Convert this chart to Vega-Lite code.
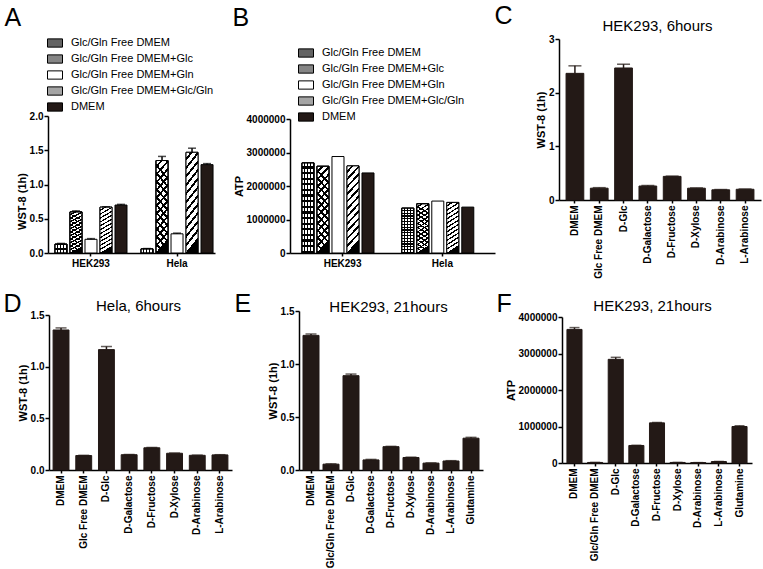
{
  "$schema": "https://vega.github.io/schema/vega-lite/v6.json",
  "background": "white",
  "padding": {"left": 3, "top": 3, "right": 2, "bottom": 2},
  "config": {
    "font": "Liberation Sans",
    "view": {"stroke": null},
    "axis": {"grid": false, "domainColor": "#000", "tickColor": "#000", "labelColor": "#000", "titleColor": "#000", "labelFont": "Liberation Sans", "titleFont": "Liberation Sans", "labelFontWeight": "bold", "labelFontSize": 10, "domainWidth": 1.5, "tickWidth": 1.5, "tickSize": 4, "labelPadding": 1, "labelOverlap": false, "labelBound": false},
    "axisLeft": {"titleFontSize": 11, "titleFontWeight": "bold", "titlePadding": 2, "labelOverlap": false},
    "axisBottom": {"titleFontSize": 25, "titleFontWeight": "normal", "titleAlign": "left", "titleBaseline": "alphabetic", "titleAngle": 0, "labelPadding": 2, "tickSize": 3},
    "axisTop": {"titleFontSize": 15, "titleFontWeight": "normal", "titleAlign": "center", "titleBaseline": "alphabetic", "titleAngle": 0, "labels": false, "ticks": false, "domain": false},
    "legend": {"padding": 0}
  },
  "columns": 3,
  "bounds": "flush",
  "align": "each",
  "spacing": 58,
  "resolve": {"scale": {"fill": "independent"}, "legend": {"fill": "independent"}},
  "concat": [
    {
      "width": 167, "height": 214,
      "data": {"values": [
        {"cell": "HEK293", "cond": "Glc/Gln Free DMEM", "v": 0.13, "hi": 0.14},
        {"cell": "HEK293", "cond": "Glc/Gln Free DMEM+Glc", "v": 0.60, "hi": 0.615},
        {"cell": "HEK293", "cond": "Glc/Gln Free DMEM+Gln", "v": 0.20, "hi": 0.21},
        {"cell": "HEK293", "cond": "Glc/Gln Free DMEM+Glc/Gln", "v": 0.67, "hi": 0.675},
        {"cell": "HEK293", "cond": "DMEM", "v": 0.70, "hi": 0.71},
        {"cell": "Hela", "cond": "Glc/Gln Free DMEM", "v": 0.06, "hi": 0.065},
        {"cell": "Hela", "cond": "Glc/Gln Free DMEM+Glc", "v": 1.35, "hi": 1.41},
        {"cell": "Hela", "cond": "Glc/Gln Free DMEM+Gln", "v": 0.28, "hi": 0.29},
        {"cell": "Hela", "cond": "Glc/Gln Free DMEM+Glc/Gln", "v": 1.47, "hi": 1.53},
        {"cell": "Hela", "cond": "DMEM", "v": 1.29, "hi": 1.305}
      ]},
      "layer": [
        {
          "mark": {"type": "bar", "stroke": "#000", "strokeWidth": 1},
          "encoding": {
            "x": {"field": "cell", "type": "nominal", "sort": null, "title": "A",
              "scale": {"paddingInner": 0.163, "paddingOuter": 0.052, "align": 0.78},
              "axis": {"labelAngle": 0, "titleX": -44, "titleY": -228}},
            "xOffset": {"field": "cond", "type": "nominal", "sort": null, "scale": {"domain": ["Glc/Gln Free DMEM", "Glc/Gln Free DMEM+Glc", "Glc/Gln Free DMEM+Gln", "Glc/Gln Free DMEM+Glc/Gln", "DMEM"], "paddingInner": 0.2, "paddingOuter": 0}},
            "y": {"field": "v", "type": "quantitative", "title": "WST-8 (1h)",
              "scale": {"domain": [0, 2], "range": [214, 77], "nice": false},
              "axis": {"values": [0, 0.5, 1, 1.5, 2], "format": ".1f", "titleY": 162}},
            "fill": {"field": "cond", "type": "nominal", "sort": null,
              "scale": {"domain": ["Glc/Gln Free DMEM", "Glc/Gln Free DMEM+Glc", "Glc/Gln Free DMEM+Gln", "Glc/Gln Free DMEM+Glc/Gln", "DMEM"],
                "range": ["#636363", "#858585", "#ffffff", "#a5a5a5", "#231916"]},
              "legend": {"orient": "none", "legendX": -1, "legendY": -4, "title": null, "symbolType": "M-1,-0.55H1V0.55H-1Z", "symbolSize": 225, "symbolStrokeColor": "#000", "symbolStrokeWidth": 1, "labelFont": "Liberation Sans", "labelFontSize": 11, "labelColor": "#000", "labelOffset": 8, "rowPadding": 1, "labelLimit": 300}}
          }
        },
        {
          "transform": [{"filter": "datum.cond === 'Glc/Gln Free DMEM'"}],
          "mark": {"type": "bar", "stroke": "#000", "strokeWidth": 1,
            "fill": {"gradient": "linear", "x1": 0, "y1": 0, "x2": 1, "y2": 0, "stops": [
              {"offset": 0, "color": "#fff"}, {"offset": 0.15, "color": "#fff"}, {"offset": 0.15, "color": "#000"}, {"offset": 0.25, "color": "#000"},
              {"offset": 0.25, "color": "#fff"}, {"offset": 0.4, "color": "#fff"}, {"offset": 0.4, "color": "#000"}, {"offset": 0.5, "color": "#000"},
              {"offset": 0.5, "color": "#fff"}, {"offset": 0.65, "color": "#fff"}, {"offset": 0.65, "color": "#000"}, {"offset": 0.75, "color": "#000"},
              {"offset": 0.75, "color": "#fff"}, {"offset": 0.9, "color": "#fff"}, {"offset": 0.9, "color": "#000"}, {"offset": 1, "color": "#000"}]}},
          "encoding": {
            "x": {"field": "cell", "type": "nominal", "sort": null, "title": "A"},
            "xOffset": {"field": "cond", "type": "nominal", "sort": null},
            "y": {"field": "v", "type": "quantitative", "title": "WST-8 (1h)"}
          }
        },
        {
          "transform": [{"filter": "datum.cond === 'Glc/Gln Free DMEM'"}],
          "mark": {"type": "bar", "stroke": "#000", "strokeWidth": 1,
            "fill": {"gradient": "linear", "x1": 0, "y1": 0, "x2": 0, "y2": 1, "stops": [
              {"offset": 0, "color": "rgba(0,0,0,0)"}, {"offset": 0.0375, "color": "rgba(0,0,0,0)"}, {"offset": 0.0375, "color": "#000"}, {"offset": 0.0625, "color": "#000"},
              {"offset": 0.0625, "color": "rgba(0,0,0,0)"}, {"offset": 0.1, "color": "rgba(0,0,0,0)"}, {"offset": 0.1, "color": "#000"}, {"offset": 0.125, "color": "#000"},
              {"offset": 0.125, "color": "rgba(0,0,0,0)"}, {"offset": 0.1625, "color": "rgba(0,0,0,0)"}, {"offset": 0.1625, "color": "#000"}, {"offset": 0.1875, "color": "#000"},
              {"offset": 0.1875, "color": "rgba(0,0,0,0)"}, {"offset": 0.225, "color": "rgba(0,0,0,0)"}, {"offset": 0.225, "color": "#000"}, {"offset": 0.25, "color": "#000"},
              {"offset": 0.25, "color": "rgba(0,0,0,0)"}, {"offset": 0.2875, "color": "rgba(0,0,0,0)"}, {"offset": 0.2875, "color": "#000"}, {"offset": 0.3125, "color": "#000"},
              {"offset": 0.3125, "color": "rgba(0,0,0,0)"}, {"offset": 0.35, "color": "rgba(0,0,0,0)"}, {"offset": 0.35, "color": "#000"}, {"offset": 0.375, "color": "#000"},
              {"offset": 0.375, "color": "rgba(0,0,0,0)"}, {"offset": 0.4125, "color": "rgba(0,0,0,0)"}, {"offset": 0.4125, "color": "#000"}, {"offset": 0.4375, "color": "#000"},
              {"offset": 0.4375, "color": "rgba(0,0,0,0)"}, {"offset": 0.475, "color": "rgba(0,0,0,0)"}, {"offset": 0.475, "color": "#000"}, {"offset": 0.5, "color": "#000"},
              {"offset": 0.5, "color": "rgba(0,0,0,0)"}, {"offset": 0.5375, "color": "rgba(0,0,0,0)"}, {"offset": 0.5375, "color": "#000"}, {"offset": 0.5625, "color": "#000"},
              {"offset": 0.5625, "color": "rgba(0,0,0,0)"}, {"offset": 0.6, "color": "rgba(0,0,0,0)"}, {"offset": 0.6, "color": "#000"}, {"offset": 0.625, "color": "#000"},
              {"offset": 0.625, "color": "rgba(0,0,0,0)"}, {"offset": 0.6625, "color": "rgba(0,0,0,0)"}, {"offset": 0.6625, "color": "#000"}, {"offset": 0.6875, "color": "#000"},
              {"offset": 0.6875, "color": "rgba(0,0,0,0)"}, {"offset": 0.725, "color": "rgba(0,0,0,0)"}, {"offset": 0.725, "color": "#000"}, {"offset": 0.75, "color": "#000"},
              {"offset": 0.75, "color": "rgba(0,0,0,0)"}, {"offset": 0.7875, "color": "rgba(0,0,0,0)"}, {"offset": 0.7875, "color": "#000"}, {"offset": 0.8125, "color": "#000"},
              {"offset": 0.8125, "color": "rgba(0,0,0,0)"}, {"offset": 0.85, "color": "rgba(0,0,0,0)"}, {"offset": 0.85, "color": "#000"}, {"offset": 0.875, "color": "#000"},
              {"offset": 0.875, "color": "rgba(0,0,0,0)"}, {"offset": 0.9125, "color": "rgba(0,0,0,0)"}, {"offset": 0.9125, "color": "#000"}, {"offset": 0.9375, "color": "#000"},
              {"offset": 0.9375, "color": "rgba(0,0,0,0)"}, {"offset": 0.975, "color": "rgba(0,0,0,0)"}, {"offset": 0.975, "color": "#000"}, {"offset": 1, "color": "#000"}]}},
          "encoding": {
            "x": {"field": "cell", "type": "nominal", "sort": null, "title": "A"},
            "xOffset": {"field": "cond", "type": "nominal", "sort": null},
            "y": {"field": "v", "type": "quantitative", "title": "WST-8 (1h)"}
          }
        },
        {
          "transform": [{"filter": "datum.cond === 'Glc/Gln Free DMEM+Glc' || datum.cond === 'Glc/Gln Free DMEM+Glc/Gln'"}],
          "mark": {"type": "bar", "stroke": "#000", "strokeWidth": 1,
            "fill": {"gradient": "linear", "x1": 0, "y1": 0, "x2": 0.15, "y2": 1, "stops": [
              {"offset": 0, "color": "#fff"}, {"offset": 0.054, "color": "#fff"}, {"offset": 0.054, "color": "#000"}, {"offset": 0.0833, "color": "#000"},
              {"offset": 0.0833, "color": "#fff"}, {"offset": 0.137, "color": "#fff"}, {"offset": 0.137, "color": "#000"}, {"offset": 0.1667, "color": "#000"},
              {"offset": 0.1667, "color": "#fff"}, {"offset": 0.221, "color": "#fff"}, {"offset": 0.221, "color": "#000"}, {"offset": 0.25, "color": "#000"},
              {"offset": 0.25, "color": "#fff"}, {"offset": 0.304, "color": "#fff"}, {"offset": 0.304, "color": "#000"}, {"offset": 0.3333, "color": "#000"},
              {"offset": 0.3333, "color": "#fff"}, {"offset": 0.387, "color": "#fff"}, {"offset": 0.387, "color": "#000"}, {"offset": 0.4167, "color": "#000"},
              {"offset": 0.4167, "color": "#fff"}, {"offset": 0.471, "color": "#fff"}, {"offset": 0.471, "color": "#000"}, {"offset": 0.5, "color": "#000"},
              {"offset": 0.5, "color": "#fff"}, {"offset": 0.554, "color": "#fff"}, {"offset": 0.554, "color": "#000"}, {"offset": 0.5833, "color": "#000"},
              {"offset": 0.5833, "color": "#fff"}, {"offset": 0.637, "color": "#fff"}, {"offset": 0.637, "color": "#000"}, {"offset": 0.6667, "color": "#000"},
              {"offset": 0.6667, "color": "#fff"}, {"offset": 0.721, "color": "#fff"}, {"offset": 0.721, "color": "#000"}, {"offset": 0.75, "color": "#000"},
              {"offset": 0.75, "color": "#fff"}, {"offset": 0.804, "color": "#fff"}, {"offset": 0.804, "color": "#000"}, {"offset": 0.8333, "color": "#000"},
              {"offset": 0.8333, "color": "#fff"}, {"offset": 0.887, "color": "#fff"}, {"offset": 0.887, "color": "#000"}, {"offset": 0.9167, "color": "#000"},
              {"offset": 0.9167, "color": "#fff"}, {"offset": 0.971, "color": "#fff"}, {"offset": 0.971, "color": "#000"}, {"offset": 1, "color": "#000"}]}},
          "encoding": {
            "x": {"field": "cell", "type": "nominal", "sort": null, "title": "A"},
            "xOffset": {"field": "cond", "type": "nominal", "sort": null},
            "y": {"field": "v", "type": "quantitative", "title": "WST-8 (1h)"}
          }
        },
        {
          "transform": [{"filter": "datum.cond === 'Glc/Gln Free DMEM+Glc'"}],
          "mark": {"type": "bar", "stroke": "#000", "strokeWidth": 1,
            "fill": {"gradient": "linear", "x1": 0.15, "y1": 0, "x2": 0, "y2": 1, "stops": [
              {"offset": 0, "color": "rgba(0,0,0,0)"}, {"offset": 0.054, "color": "rgba(0,0,0,0)"}, {"offset": 0.054, "color": "#000"}, {"offset": 0.0833, "color": "#000"},
              {"offset": 0.0833, "color": "rgba(0,0,0,0)"}, {"offset": 0.137, "color": "rgba(0,0,0,0)"}, {"offset": 0.137, "color": "#000"}, {"offset": 0.1667, "color": "#000"},
              {"offset": 0.1667, "color": "rgba(0,0,0,0)"}, {"offset": 0.221, "color": "rgba(0,0,0,0)"}, {"offset": 0.221, "color": "#000"}, {"offset": 0.25, "color": "#000"},
              {"offset": 0.25, "color": "rgba(0,0,0,0)"}, {"offset": 0.304, "color": "rgba(0,0,0,0)"}, {"offset": 0.304, "color": "#000"}, {"offset": 0.3333, "color": "#000"},
              {"offset": 0.3333, "color": "rgba(0,0,0,0)"}, {"offset": 0.387, "color": "rgba(0,0,0,0)"}, {"offset": 0.387, "color": "#000"}, {"offset": 0.4167, "color": "#000"},
              {"offset": 0.4167, "color": "rgba(0,0,0,0)"}, {"offset": 0.471, "color": "rgba(0,0,0,0)"}, {"offset": 0.471, "color": "#000"}, {"offset": 0.5, "color": "#000"},
              {"offset": 0.5, "color": "rgba(0,0,0,0)"}, {"offset": 0.554, "color": "rgba(0,0,0,0)"}, {"offset": 0.554, "color": "#000"}, {"offset": 0.5833, "color": "#000"},
              {"offset": 0.5833, "color": "rgba(0,0,0,0)"}, {"offset": 0.637, "color": "rgba(0,0,0,0)"}, {"offset": 0.637, "color": "#000"}, {"offset": 0.6667, "color": "#000"},
              {"offset": 0.6667, "color": "rgba(0,0,0,0)"}, {"offset": 0.721, "color": "rgba(0,0,0,0)"}, {"offset": 0.721, "color": "#000"}, {"offset": 0.75, "color": "#000"},
              {"offset": 0.75, "color": "rgba(0,0,0,0)"}, {"offset": 0.804, "color": "rgba(0,0,0,0)"}, {"offset": 0.804, "color": "#000"}, {"offset": 0.8333, "color": "#000"},
              {"offset": 0.8333, "color": "rgba(0,0,0,0)"}, {"offset": 0.887, "color": "rgba(0,0,0,0)"}, {"offset": 0.887, "color": "#000"}, {"offset": 0.9167, "color": "#000"},
              {"offset": 0.9167, "color": "rgba(0,0,0,0)"}, {"offset": 0.971, "color": "rgba(0,0,0,0)"}, {"offset": 0.971, "color": "#000"}, {"offset": 1, "color": "#000"}]}},
          "encoding": {
            "x": {"field": "cell", "type": "nominal", "sort": null, "title": "A"},
            "xOffset": {"field": "cond", "type": "nominal", "sort": null},
            "y": {"field": "v", "type": "quantitative", "title": "WST-8 (1h)"}
          }
        },
        {
          "mark": {"type": "rule", "color": "#000", "strokeWidth": 1.5},
          "encoding": {
            "x": {"field": "cell", "type": "nominal", "sort": null, "title": "A"},
            "xOffset": {"field": "cond", "type": "nominal", "sort": null},
            "y": {"field": "v", "type": "quantitative", "title": "WST-8 (1h)"},
            "y2": {"field": "hi"}
          }
        },
        {
          "mark": {"type": "tick", "color": "#000", "thickness": 1.5, "size": 8},
          "encoding": {
            "x": {"field": "cell", "type": "nominal", "sort": null, "title": "A"},
            "xOffset": {"field": "cond", "type": "nominal", "sort": null},
            "y": {"field": "hi", "type": "quantitative", "title": "WST-8 (1h)"}
          }
        }
      ]
    },
    {
      "width": 211, "height": 214,
      "data": {"values": [
        {"cell": "HEK293", "cond": "Glc/Gln Free DMEM", "v": 2690000},
        {"cell": "HEK293", "cond": "Glc/Gln Free DMEM+Glc", "v": 2590000},
        {"cell": "HEK293", "cond": "Glc/Gln Free DMEM+Gln", "v": 2880000},
        {"cell": "HEK293", "cond": "Glc/Gln Free DMEM+Glc/Gln", "v": 2600000},
        {"cell": "HEK293", "cond": "DMEM", "v": 2390000},
        {"cell": "Hela", "cond": "Glc/Gln Free DMEM", "v": 1340000},
        {"cell": "Hela", "cond": "Glc/Gln Free DMEM+Glc", "v": 1470000},
        {"cell": "Hela", "cond": "Glc/Gln Free DMEM+Gln", "v": 1550000},
        {"cell": "Hela", "cond": "Glc/Gln Free DMEM+Glc/Gln", "v": 1510000},
        {"cell": "Hela", "cond": "DMEM", "v": 1370000}
      ]},
      "layer": [
        {
          "mark": {"type": "bar", "stroke": "#000", "strokeWidth": 1},
          "encoding": {
            "x": {"field": "cell", "type": "nominal", "sort": null, "title": "B",
              "scale": {"range": [0, 205], "paddingInner": 0.186, "paddingOuter": 0.12},
              "axis": {"labelAngle": 0, "titleX": -58, "titleY": -228}},
            "xOffset": {"field": "cond", "type": "nominal", "sort": null, "scale": {"domain": ["Glc/Gln Free DMEM", "Glc/Gln Free DMEM+Glc", "Glc/Gln Free DMEM+Gln", "Glc/Gln Free DMEM+Glc/Gln", "DMEM"], "paddingInner": 0.3, "paddingOuter": 0}},
            "y": {"field": "v", "type": "quantitative", "title": "ATP",
              "scale": {"domain": [0, 4000000], "range": [214, 80], "nice": false},
              "axis": {"values": [0, 1000000, 2000000, 3000000, 4000000], "format": "d"}},
            "fill": {"field": "cond", "type": "nominal", "sort": null,
              "scale": {"domain": ["Glc/Gln Free DMEM", "Glc/Gln Free DMEM+Glc", "Glc/Gln Free DMEM+Gln", "Glc/Gln Free DMEM+Glc/Gln", "DMEM"],
                "range": ["#636363", "#858585", "#ffffff", "#a5a5a5", "#231916"]},
              "legend": {"orient": "none", "legendX": 8, "legendY": 6, "title": null, "symbolType": "M-1,-0.55H1V0.55H-1Z", "symbolSize": 225, "symbolStrokeColor": "#000", "symbolStrokeWidth": 1, "labelFont": "Liberation Sans", "labelFontSize": 11, "labelColor": "#000", "labelOffset": 8, "rowPadding": 1, "labelLimit": 300}}
          }
        },
        {
          "transform": [{"filter": "datum.cond === 'Glc/Gln Free DMEM'"}],
          "mark": {"type": "bar", "stroke": "#000", "strokeWidth": 1,
            "fill": {"gradient": "linear", "x1": 0, "y1": 0, "x2": 1, "y2": 0, "stops": [
              {"offset": 0, "color": "#fff"}, {"offset": 0.15, "color": "#fff"}, {"offset": 0.15, "color": "#000"}, {"offset": 0.25, "color": "#000"},
              {"offset": 0.25, "color": "#fff"}, {"offset": 0.4, "color": "#fff"}, {"offset": 0.4, "color": "#000"}, {"offset": 0.5, "color": "#000"},
              {"offset": 0.5, "color": "#fff"}, {"offset": 0.65, "color": "#fff"}, {"offset": 0.65, "color": "#000"}, {"offset": 0.75, "color": "#000"},
              {"offset": 0.75, "color": "#fff"}, {"offset": 0.9, "color": "#fff"}, {"offset": 0.9, "color": "#000"}, {"offset": 1, "color": "#000"}]}},
          "encoding": {
            "x": {"field": "cell", "type": "nominal", "sort": null, "title": "B"},
            "xOffset": {"field": "cond", "type": "nominal", "sort": null},
            "y": {"field": "v", "type": "quantitative", "title": "ATP"}
          }
        },
        {
          "transform": [{"filter": "datum.cond === 'Glc/Gln Free DMEM'"}],
          "mark": {"type": "bar", "stroke": "#000", "strokeWidth": 1,
            "fill": {"gradient": "linear", "x1": 0, "y1": 0, "x2": 0, "y2": 1, "stops": [
              {"offset": 0, "color": "rgba(0,0,0,0)"}, {"offset": 0.0375, "color": "rgba(0,0,0,0)"}, {"offset": 0.0375, "color": "#000"}, {"offset": 0.0625, "color": "#000"},
              {"offset": 0.0625, "color": "rgba(0,0,0,0)"}, {"offset": 0.1, "color": "rgba(0,0,0,0)"}, {"offset": 0.1, "color": "#000"}, {"offset": 0.125, "color": "#000"},
              {"offset": 0.125, "color": "rgba(0,0,0,0)"}, {"offset": 0.1625, "color": "rgba(0,0,0,0)"}, {"offset": 0.1625, "color": "#000"}, {"offset": 0.1875, "color": "#000"},
              {"offset": 0.1875, "color": "rgba(0,0,0,0)"}, {"offset": 0.225, "color": "rgba(0,0,0,0)"}, {"offset": 0.225, "color": "#000"}, {"offset": 0.25, "color": "#000"},
              {"offset": 0.25, "color": "rgba(0,0,0,0)"}, {"offset": 0.2875, "color": "rgba(0,0,0,0)"}, {"offset": 0.2875, "color": "#000"}, {"offset": 0.3125, "color": "#000"},
              {"offset": 0.3125, "color": "rgba(0,0,0,0)"}, {"offset": 0.35, "color": "rgba(0,0,0,0)"}, {"offset": 0.35, "color": "#000"}, {"offset": 0.375, "color": "#000"},
              {"offset": 0.375, "color": "rgba(0,0,0,0)"}, {"offset": 0.4125, "color": "rgba(0,0,0,0)"}, {"offset": 0.4125, "color": "#000"}, {"offset": 0.4375, "color": "#000"},
              {"offset": 0.4375, "color": "rgba(0,0,0,0)"}, {"offset": 0.475, "color": "rgba(0,0,0,0)"}, {"offset": 0.475, "color": "#000"}, {"offset": 0.5, "color": "#000"},
              {"offset": 0.5, "color": "rgba(0,0,0,0)"}, {"offset": 0.5375, "color": "rgba(0,0,0,0)"}, {"offset": 0.5375, "color": "#000"}, {"offset": 0.5625, "color": "#000"},
              {"offset": 0.5625, "color": "rgba(0,0,0,0)"}, {"offset": 0.6, "color": "rgba(0,0,0,0)"}, {"offset": 0.6, "color": "#000"}, {"offset": 0.625, "color": "#000"},
              {"offset": 0.625, "color": "rgba(0,0,0,0)"}, {"offset": 0.6625, "color": "rgba(0,0,0,0)"}, {"offset": 0.6625, "color": "#000"}, {"offset": 0.6875, "color": "#000"},
              {"offset": 0.6875, "color": "rgba(0,0,0,0)"}, {"offset": 0.725, "color": "rgba(0,0,0,0)"}, {"offset": 0.725, "color": "#000"}, {"offset": 0.75, "color": "#000"},
              {"offset": 0.75, "color": "rgba(0,0,0,0)"}, {"offset": 0.7875, "color": "rgba(0,0,0,0)"}, {"offset": 0.7875, "color": "#000"}, {"offset": 0.8125, "color": "#000"},
              {"offset": 0.8125, "color": "rgba(0,0,0,0)"}, {"offset": 0.85, "color": "rgba(0,0,0,0)"}, {"offset": 0.85, "color": "#000"}, {"offset": 0.875, "color": "#000"},
              {"offset": 0.875, "color": "rgba(0,0,0,0)"}, {"offset": 0.9125, "color": "rgba(0,0,0,0)"}, {"offset": 0.9125, "color": "#000"}, {"offset": 0.9375, "color": "#000"},
              {"offset": 0.9375, "color": "rgba(0,0,0,0)"}, {"offset": 0.975, "color": "rgba(0,0,0,0)"}, {"offset": 0.975, "color": "#000"}, {"offset": 1, "color": "#000"}]}},
          "encoding": {
            "x": {"field": "cell", "type": "nominal", "sort": null, "title": "B"},
            "xOffset": {"field": "cond", "type": "nominal", "sort": null},
            "y": {"field": "v", "type": "quantitative", "title": "ATP"}
          }
        },
        {
          "transform": [{"filter": "datum.cond === 'Glc/Gln Free DMEM+Glc' || datum.cond === 'Glc/Gln Free DMEM+Glc/Gln'"}],
          "mark": {"type": "bar", "stroke": "#000", "strokeWidth": 1,
            "fill": {"gradient": "linear", "x1": 0, "y1": 0, "x2": 0.15, "y2": 1, "stops": [
              {"offset": 0, "color": "#fff"}, {"offset": 0.054, "color": "#fff"}, {"offset": 0.054, "color": "#000"}, {"offset": 0.0833, "color": "#000"},
              {"offset": 0.0833, "color": "#fff"}, {"offset": 0.137, "color": "#fff"}, {"offset": 0.137, "color": "#000"}, {"offset": 0.1667, "color": "#000"},
              {"offset": 0.1667, "color": "#fff"}, {"offset": 0.221, "color": "#fff"}, {"offset": 0.221, "color": "#000"}, {"offset": 0.25, "color": "#000"},
              {"offset": 0.25, "color": "#fff"}, {"offset": 0.304, "color": "#fff"}, {"offset": 0.304, "color": "#000"}, {"offset": 0.3333, "color": "#000"},
              {"offset": 0.3333, "color": "#fff"}, {"offset": 0.387, "color": "#fff"}, {"offset": 0.387, "color": "#000"}, {"offset": 0.4167, "color": "#000"},
              {"offset": 0.4167, "color": "#fff"}, {"offset": 0.471, "color": "#fff"}, {"offset": 0.471, "color": "#000"}, {"offset": 0.5, "color": "#000"},
              {"offset": 0.5, "color": "#fff"}, {"offset": 0.554, "color": "#fff"}, {"offset": 0.554, "color": "#000"}, {"offset": 0.5833, "color": "#000"},
              {"offset": 0.5833, "color": "#fff"}, {"offset": 0.637, "color": "#fff"}, {"offset": 0.637, "color": "#000"}, {"offset": 0.6667, "color": "#000"},
              {"offset": 0.6667, "color": "#fff"}, {"offset": 0.721, "color": "#fff"}, {"offset": 0.721, "color": "#000"}, {"offset": 0.75, "color": "#000"},
              {"offset": 0.75, "color": "#fff"}, {"offset": 0.804, "color": "#fff"}, {"offset": 0.804, "color": "#000"}, {"offset": 0.8333, "color": "#000"},
              {"offset": 0.8333, "color": "#fff"}, {"offset": 0.887, "color": "#fff"}, {"offset": 0.887, "color": "#000"}, {"offset": 0.9167, "color": "#000"},
              {"offset": 0.9167, "color": "#fff"}, {"offset": 0.971, "color": "#fff"}, {"offset": 0.971, "color": "#000"}, {"offset": 1, "color": "#000"}]}},
          "encoding": {
            "x": {"field": "cell", "type": "nominal", "sort": null, "title": "B"},
            "xOffset": {"field": "cond", "type": "nominal", "sort": null},
            "y": {"field": "v", "type": "quantitative", "title": "ATP"}
          }
        },
        {
          "transform": [{"filter": "datum.cond === 'Glc/Gln Free DMEM+Glc'"}],
          "mark": {"type": "bar", "stroke": "#000", "strokeWidth": 1,
            "fill": {"gradient": "linear", "x1": 0.15, "y1": 0, "x2": 0, "y2": 1, "stops": [
              {"offset": 0, "color": "rgba(0,0,0,0)"}, {"offset": 0.054, "color": "rgba(0,0,0,0)"}, {"offset": 0.054, "color": "#000"}, {"offset": 0.0833, "color": "#000"},
              {"offset": 0.0833, "color": "rgba(0,0,0,0)"}, {"offset": 0.137, "color": "rgba(0,0,0,0)"}, {"offset": 0.137, "color": "#000"}, {"offset": 0.1667, "color": "#000"},
              {"offset": 0.1667, "color": "rgba(0,0,0,0)"}, {"offset": 0.221, "color": "rgba(0,0,0,0)"}, {"offset": 0.221, "color": "#000"}, {"offset": 0.25, "color": "#000"},
              {"offset": 0.25, "color": "rgba(0,0,0,0)"}, {"offset": 0.304, "color": "rgba(0,0,0,0)"}, {"offset": 0.304, "color": "#000"}, {"offset": 0.3333, "color": "#000"},
              {"offset": 0.3333, "color": "rgba(0,0,0,0)"}, {"offset": 0.387, "color": "rgba(0,0,0,0)"}, {"offset": 0.387, "color": "#000"}, {"offset": 0.4167, "color": "#000"},
              {"offset": 0.4167, "color": "rgba(0,0,0,0)"}, {"offset": 0.471, "color": "rgba(0,0,0,0)"}, {"offset": 0.471, "color": "#000"}, {"offset": 0.5, "color": "#000"},
              {"offset": 0.5, "color": "rgba(0,0,0,0)"}, {"offset": 0.554, "color": "rgba(0,0,0,0)"}, {"offset": 0.554, "color": "#000"}, {"offset": 0.5833, "color": "#000"},
              {"offset": 0.5833, "color": "rgba(0,0,0,0)"}, {"offset": 0.637, "color": "rgba(0,0,0,0)"}, {"offset": 0.637, "color": "#000"}, {"offset": 0.6667, "color": "#000"},
              {"offset": 0.6667, "color": "rgba(0,0,0,0)"}, {"offset": 0.721, "color": "rgba(0,0,0,0)"}, {"offset": 0.721, "color": "#000"}, {"offset": 0.75, "color": "#000"},
              {"offset": 0.75, "color": "rgba(0,0,0,0)"}, {"offset": 0.804, "color": "rgba(0,0,0,0)"}, {"offset": 0.804, "color": "#000"}, {"offset": 0.8333, "color": "#000"},
              {"offset": 0.8333, "color": "rgba(0,0,0,0)"}, {"offset": 0.887, "color": "rgba(0,0,0,0)"}, {"offset": 0.887, "color": "#000"}, {"offset": 0.9167, "color": "#000"},
              {"offset": 0.9167, "color": "rgba(0,0,0,0)"}, {"offset": 0.971, "color": "rgba(0,0,0,0)"}, {"offset": 0.971, "color": "#000"}, {"offset": 1, "color": "#000"}]}},
          "encoding": {
            "x": {"field": "cell", "type": "nominal", "sort": null, "title": "B"},
            "xOffset": {"field": "cond", "type": "nominal", "sort": null},
            "y": {"field": "v", "type": "quantitative", "title": "ATP"}
          }
        }
      ]
    },
    {
      "width": 202, "height": 161,
      "data": {"values": [
        {"s": "DMEM", "v": 2.36, "hi": 2.50},
        {"s": "Glc Free DMEM", "v": 0.22, "hi": 0.23},
        {"s": "D-Glc", "v": 2.46, "hi": 2.53},
        {"s": "D-Galactose", "v": 0.26, "hi": 0.27},
        {"s": "D-Fructose", "v": 0.44, "hi": 0.445},
        {"s": "D-Xylose", "v": 0.22, "hi": 0.225},
        {"s": "D-Arabinose", "v": 0.19, "hi": 0.195},
        {"s": "L-Arabinose", "v": 0.20, "hi": 0.205}
      ]},
      "resolve": {"axis": {"x": "independent"}},
      "layer": [
        {
          "mark": {"type": "bar", "fill": "#231916", "stroke": "#231916"},
          "encoding": {
            "x": {"field": "s", "type": "nominal", "sort": null, "title": "C",
              "scale": {"paddingInner": 0.27, "paddingOuter": 0.29},
              "axis": {"orient": "bottom", "labelAngle": -90, "titleX": -65, "titleY": -177}},
            "y": {"field": "v", "type": "quantitative", "title": "WST-8 (1h)",
              "scale": {"domain": [0, 3], "nice": false},
              "axis": {"values": [0, 1, 2, 3], "format": "d"}}
          }
        },
        {
          "mark": {"type": "rule", "color": "#231916", "strokeWidth": 1.5},
          "encoding": {
            "x": {"field": "s", "type": "nominal", "sort": null, "title": "HEK293, 6hours",
              "axis": {"orient": "top", "titleX": 98, "titleY": -9}},
            "y": {"field": "v", "type": "quantitative", "title": "WST-8 (1h)"},
            "y2": {"field": "hi"}
          }
        },
        {
          "mark": {"type": "tick", "color": "#231916", "thickness": 1.5, "size": 13},
          "encoding": {
            "x": {"field": "s", "type": "nominal", "sort": null, "axis": null},
            "y": {"field": "hi", "type": "quantitative", "title": "WST-8 (1h)"}
          }
        }
      ]
    },
    {
      "width": 184, "height": 159,
      "data": {"values": [
        {"s": "DMEM", "v": 1.355, "hi": 1.375},
        {"s": "Glc Free DMEM", "v": 0.14, "hi": 0.142},
        {"s": "D-Glc", "v": 1.165, "hi": 1.195},
        {"s": "D-Galactose", "v": 0.148, "hi": 0.15},
        {"s": "D-Fructose", "v": 0.215, "hi": 0.218},
        {"s": "D-Xylose", "v": 0.162, "hi": 0.164},
        {"s": "D-Arabinose", "v": 0.142, "hi": 0.144},
        {"s": "L-Arabinose", "v": 0.146, "hi": 0.148}
      ]},
      "resolve": {"axis": {"x": "independent"}},
      "layer": [
        {
          "mark": {"type": "bar", "fill": "#231916", "stroke": "#231916"},
          "encoding": {
            "x": {"field": "s", "type": "nominal", "sort": null, "title": "D",
              "scale": {"range": [1, 184], "paddingInner": 0.3, "paddingOuter": 0.18},
              "axis": {"orient": "bottom", "labelAngle": -90, "titleX": -45, "titleY": -159}},
            "y": {"field": "v", "type": "quantitative", "title": "WST-8 (1h)",
              "scale": {"domain": [0, 1.5], "range": [159, 4], "nice": false},
              "axis": {"values": [0, 0.5, 1, 1.5], "format": ".1f", "offset": -1}}
          }
        },
        {
          "mark": {"type": "rule", "color": "#231916", "strokeWidth": 1.5},
          "encoding": {
            "x": {"field": "s", "type": "nominal", "sort": null, "title": "Hela, 6hours",
              "axis": {"orient": "top", "titleX": 90, "titleY": -1}},
            "y": {"field": "v", "type": "quantitative", "title": "WST-8 (1h)"},
            "y2": {"field": "hi"}
          }
        },
        {
          "mark": {"type": "tick", "color": "#231916", "thickness": 1.5, "size": 11},
          "encoding": {
            "x": {"field": "s", "type": "nominal", "sort": null, "axis": null},
            "y": {"field": "hi", "type": "quantitative", "title": "WST-8 (1h)"}
          }
        }
      ]
    },
    {
      "width": 193, "height": 159,
      "data": {"values": [
        {"s": "DMEM", "v": 1.27, "hi": 1.283},
        {"s": "Glc/Gln Free DMEM", "v": 0.055, "hi": 0.058},
        {"s": "D-Glc", "v": 0.89, "hi": 0.905},
        {"s": "D-Galactose", "v": 0.095, "hi": 0.1},
        {"s": "D-Fructose", "v": 0.22, "hi": 0.223},
        {"s": "D-Xylose", "v": 0.118, "hi": 0.121},
        {"s": "D-Arabinose", "v": 0.065, "hi": 0.067},
        {"s": "L-Arabinose", "v": 0.085, "hi": 0.088},
        {"s": "Glutamine", "v": 0.30, "hi": 0.308}
      ]},
      "resolve": {"axis": {"x": "independent"}},
      "layer": [
        {
          "mark": {"type": "bar", "fill": "#231916", "stroke": "#231916"},
          "encoding": {
            "x": {"field": "s", "type": "nominal", "sort": null, "title": "E",
              "scale": {"range": [9, 193], "paddingInner": 0.2, "paddingOuter": 0.2},
              "axis": {"orient": "bottom", "labelAngle": -90, "titleX": -56, "titleY": -159}},
            "y": {"field": "v", "type": "quantitative", "title": "WST-8 (1h)",
              "scale": {"domain": [0, 1.5], "nice": false},
              "axis": {"values": [0, 0.5, 1, 1.5], "format": ".1f", "offset": -9}}
          }
        },
        {
          "mark": {"type": "rule", "color": "#231916", "strokeWidth": 1.5},
          "encoding": {
            "x": {"field": "s", "type": "nominal", "sort": null, "title": "HEK293, 21hours",
              "axis": {"orient": "top", "titleX": 98, "titleY": 0}},
            "y": {"field": "v", "type": "quantitative", "title": "WST-8 (1h)"},
            "y2": {"field": "hi"}
          }
        },
        {
          "mark": {"type": "tick", "color": "#231916", "thickness": 1.5, "size": 11},
          "encoding": {
            "x": {"field": "s", "type": "nominal", "sort": null, "axis": null},
            "y": {"field": "hi", "type": "quantitative", "title": "WST-8 (1h)"}
          }
        }
      ]
    },
    {
      "width": 193, "height": 152,
      "data": {"values": [
        {"s": "DMEM", "v": 3660000, "hi": 3710000},
        {"s": "Glc/Gln Free DMEM", "v": 15000, "hi": 16000},
        {"s": "D-Glc", "v": 2840000, "hi": 2895000},
        {"s": "D-Galactose", "v": 480000, "hi": 485000},
        {"s": "D-Fructose", "v": 1100000, "hi": 1110000},
        {"s": "D-Xylose", "v": 15000, "hi": 16000},
        {"s": "D-Arabinose", "v": 10000, "hi": 11000},
        {"s": "L-Arabinose", "v": 40000, "hi": 42000},
        {"s": "Glutamine", "v": 1000000, "hi": 1020000}
      ]},
      "resolve": {"axis": {"x": "independent"}},
      "layer": [
        {
          "mark": {"type": "bar", "fill": "#231916", "stroke": "#231916"},
          "encoding": {
            "x": {"field": "s", "type": "nominal", "sort": null, "title": "F",
              "scale": {"range": [3, 193], "paddingInner": 0.27, "paddingOuter": 0.24},
              "axis": {"orient": "bottom", "labelAngle": -90, "titleX": -63, "titleY": -152}},
            "y": {"field": "v", "type": "quantitative", "title": "ATP",
              "scale": {"domain": [0, 4000000], "range": [152, 6], "nice": false},
              "axis": {"values": [0, 1000000, 2000000, 3000000, 4000000], "format": "d", "offset": -3, "labelOverlap": false, "tickCount": 5}}
          }
        },
        {
          "mark": {"type": "rule", "color": "#231916", "strokeWidth": 1.5},
          "encoding": {
            "x": {"field": "s", "type": "nominal", "sort": null, "title": "HEK293, 21hours",
              "axis": {"orient": "top", "titleX": 93, "titleY": -1}},
            "y": {"field": "v", "type": "quantitative", "title": "ATP"},
            "y2": {"field": "hi"}
          }
        },
        {
          "mark": {"type": "tick", "color": "#231916", "thickness": 1.5, "size": 10},
          "encoding": {
            "x": {"field": "s", "type": "nominal", "sort": null, "axis": null},
            "y": {"field": "hi", "type": "quantitative", "title": "ATP"}
          }
        }
      ]
    }
  ]
}
